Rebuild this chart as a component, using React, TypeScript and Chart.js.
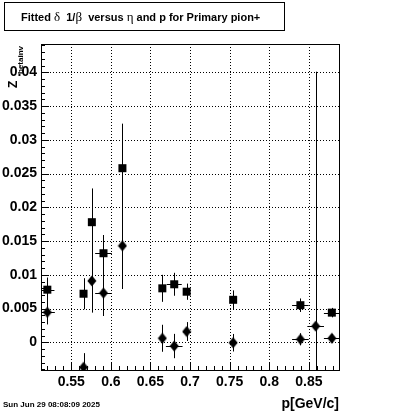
import React, { useEffect, useRef } from "react";
import { Chart, registerables } from "chart.js";

Chart.register(...registerables);

// ---- data ----
const squareP = [0.5198, 0.5655, 0.576, 0.5907, 0.6146, 0.665, 0.68, 0.6957, 0.7544, 0.8393, 0.879];
const squarePErr = [0.009, 0.004, 0.004, 0.0105, 0.004, 0.004, 0.0095, 0.004, 0.004, 0.0105, 0.01];
const squareVal = [0.0078, 0.0072, 0.0178, 0.0132, 0.0258, 0.008, 0.0086, 0.0075, 0.0063, 0.0055, 0.0044];
const squareErr = [0.0018, 0.0023, 0.005, 0.0027, 0.0066, 0.002, 0.0017, 0.0012, 0.0014, 0.001, 0.0007];

const diamondP = [0.5198, 0.5655, 0.576, 0.5907, 0.6146, 0.665, 0.68, 0.6957, 0.7544, 0.8393, 0.8586, 0.879];
const diamondPErr = [0.0095, 0.004, 0.004, 0.0105, 0.004, 0.004, 0.0105, 0.004, 0.004, 0.0105, 0.0105, 0.01];
const diamondVal = [0.00445, -0.0037, 0.0091, 0.0073, 0.0143, 0.0006, -0.00055, 0.0016, -0.00006, 0.00045, 0.0024, 0.0006];
const diamondErr = [0.0018, 0.0021, 0.0047, 0.0034, 0.0064, 0.002, 0.0018, 0.0014, 0.0013, 0.0009, 0.0377, 0.0006];

const xTickValues = [0.55, 0.6, 0.65, 0.7, 0.75, 0.8, 0.85];
const xTickLabels = ["0.55", "0.6", "0.65", "0.7", "0.75", "0.8", "0.85"];
const yTickValues = [0, 0.005, 0.01, 0.015, 0.02, 0.025, 0.03, 0.035, 0.04];
const yTickLabels = ["0", "0.005", "0.01", "0.015", "0.02", "0.025", "0.03", "0.035", "0.04"];
const xMinorValues = [0.52, 0.53, 0.54, 0.56, 0.57, 0.58, 0.59, 0.61, 0.62, 0.63, 0.64, 0.66, 0.67, 0.68, 0.69, 0.71, 0.72, 0.73, 0.74, 0.76, 0.77, 0.78, 0.79, 0.81, 0.82, 0.83, 0.84, 0.86, 0.87, 0.88];
const yMinorValues = [-0.004, -0.003, -0.002, -0.001, 0.001, 0.002, 0.003, 0.004, 0.006, 0.007, 0.008, 0.009, 0.011, 0.012, 0.013, 0.014, 0.016, 0.017, 0.018, 0.019, 0.021, 0.022, 0.023, 0.024, 0.026, 0.027, 0.028, 0.029, 0.031, 0.032, 0.033, 0.034, 0.036, 0.037, 0.038, 0.039, 0.041, 0.042, 0.043, 0.044];

const X_MIN = 0.5118;
const X_MAX = 0.8893;
const Y_MIN = -0.0041;
const Y_MAX = 0.0442;

const titleParts: [string, boolean][] = [
  ["Fitted ", false],
  ["\u03B4", true],
  ["  1/", false],
  ["\u03B2", true],
  ["  versus ", false],
  ["\u03B7", true],
  [" and p for Primary pion+", false],
];
const xTitle = "p[GeV/c]";
const yTitleMain = "Z";
const yTitleSub = "betainv";
const dateText = "Sun Jun 29 08:08:09 2025";

function makeDiamond(): HTMLCanvasElement {
  const c = document.createElement("canvas");
  c.width = 10;
  c.height = 12;
  const g = c.getContext("2d")!;
  g.fillStyle = "#000";
  g.beginPath();
  g.moveTo(5, 0.5);
  g.lineTo(9.5, 6);
  g.lineTo(5, 11.5);
  g.lineTo(0.5, 6);
  g.closePath();
  g.fill();
  return c;
}

const decorPlugin = {
  id: "rootDecor",
  beforeDatasetsDraw(chart: any) {
    const ctx = chart.ctx as CanvasRenderingContext2D;
    const { left, right, top, bottom } = chart.chartArea;
    const xs = chart.scales.x;
    const ys = chart.scales.y;
    ctx.save();
    // dotted grid
    ctx.strokeStyle = "#000";
    ctx.lineWidth = 1;
    ctx.setLineDash([1, 2]);
    xTickValues.forEach((v) => {
      const px = Math.round(xs.getPixelForValue(v)) + 0.5;
      ctx.beginPath();
      ctx.moveTo(px, top);
      ctx.lineTo(px, bottom);
      ctx.stroke();
    });
    yTickValues.forEach((v) => {
      const py = Math.round(ys.getPixelForValue(v)) + 0.5;
      ctx.beginPath();
      ctx.moveTo(left, py);
      ctx.lineTo(right, py);
      ctx.stroke();
    });
    ctx.setLineDash([]);
    // ticks inside
    const tick = (px: number, py: number, dx: number, dy: number) => {
      ctx.beginPath();
      ctx.moveTo(px, py);
      ctx.lineTo(px + dx, py + dy);
      ctx.stroke();
    };
    xTickValues.forEach((v) => tick(Math.round(xs.getPixelForValue(v)) + 0.5, bottom, 0, -8));
    xMinorValues.forEach((v) => tick(Math.round(xs.getPixelForValue(v)) + 0.5, bottom, 0, -4));
    yTickValues.forEach((v) => tick(left, Math.round(ys.getPixelForValue(v)) + 0.5, 8, 0));
    yMinorValues.forEach((v) => tick(left, Math.round(ys.getPixelForValue(v)) + 0.5, 4, 0));

    // error bars
    ctx.beginPath();
    ctx.rect(left, top, right - left, bottom - top);
    ctx.clip();
    const drawErr = (ps: number[], pe: number[], vs: number[], ve: number[]) => {
      for (let i = 0; i < ps.length; i++) {
        const cx = Math.round(xs.getPixelForValue(ps[i])) + 0.5;
        const cy = Math.round(ys.getPixelForValue(vs[i])) + 0.5;
        ctx.beginPath();
        ctx.moveTo(cx, ys.getPixelForValue(vs[i] - ve[i]));
        ctx.lineTo(cx, ys.getPixelForValue(vs[i] + ve[i]));
        ctx.moveTo(xs.getPixelForValue(ps[i] - pe[i]), cy);
        ctx.lineTo(xs.getPixelForValue(ps[i] + pe[i]), cy);
        ctx.stroke();
      }
    };
    drawErr(squareP, squarePErr, squareVal, squareErr);
    drawErr(diamondP, diamondPErr, diamondVal, diamondErr);
    ctx.restore();
  },
  afterDraw(chart: any) {
    const ctx = chart.ctx as CanvasRenderingContext2D;
    const { left, right, top, bottom } = chart.chartArea;
    ctx.save();
    ctx.strokeStyle = "#000";
    ctx.fillStyle = "#000";
    ctx.lineWidth = 1;
    // frame
    ctx.strokeRect(Math.round(left) + 0.5, Math.round(top) + 0.5, Math.round(right - left) - 1, Math.round(bottom - top));

    // title box
    ctx.strokeRect(4.5, 2.5, 280, 28);
    let x = 21;
    ctx.textBaseline = "alphabetic";
    ctx.textAlign = "left";
    titleParts.forEach(([t, greek]) => {
      ctx.font = greek ? "13px 'Liberation Serif', 'DejaVu Serif', serif" : "bold 11px 'Liberation Sans', Arial, sans-serif";
      ctx.fillText(t, x, 20.5);
      x += ctx.measureText(t).width;
    });

    // x title
    ctx.font = "bold 14px 'Liberation Sans', Arial, sans-serif";
    ctx.textAlign = "right";
    ctx.fillText(xTitle, 339, 408);

    // date
    ctx.font = "bold 8px 'Liberation Sans', Arial, sans-serif";
    ctx.textAlign = "left";
    ctx.fillText(dateText, 3, 407);

    // y title (rotated)
    ctx.translate(17, 88);
    ctx.rotate(-Math.PI / 2);
    ctx.font = "bold 12px 'Liberation Sans', Arial, sans-serif";
    ctx.fillText(yTitleMain, 0, 0);
    ctx.font = "bold 8px 'Liberation Sans', Arial, sans-serif";
    ctx.fillText(yTitleSub, 14, 6);
    ctx.restore();
  },
};

export default function App() {
  const ref = useRef<HTMLCanvasElement | null>(null);
  useEffect(() => {
    document.body.style.margin = "0";
    const diamond = makeDiamond();
    const chart = new Chart(ref.current!, {
      type: "scatter",
      data: {
        datasets: [
          {
            label: "squares",
            data: squareP.map((p, i) => ({ x: p, y: squareVal[i] })),
            pointStyle: "rect",
            pointRadius: 5.66,
            pointBackgroundColor: "#000",
            pointBorderWidth: 0,
            pointBorderColor: "#000",
            showLine: false,
          },
          {
            label: "diamonds",
            data: diamondP.map((p, i) => ({ x: p, y: diamondVal[i] })),
            pointStyle: diamond as any,
            pointRadius: 5,
            pointBackgroundColor: "#000",
            pointBorderWidth: 0,
            showLine: false,
          },
        ],
      },
      options: {
        animation: false,
        responsive: false,
        maintainAspectRatio: false,
        events: [],
        layout: { padding: { left: 0, right: 60, top: 44, bottom: 0 } },
        plugins: { legend: { display: false }, tooltip: { enabled: false }, title: { display: false } },
        scales: {
          x: {
            type: "linear",
            min: X_MIN,
            max: X_MAX,
            grid: { display: false, drawTicks: false, tickLength: 0 },
            border: { display: false },
            afterBuildTicks: (s: any) => {
              s.ticks = xTickValues.map((v) => ({ value: v }));
            },
            afterFit: (s: any) => {
              s.height = 44;
            },
            ticks: {
              autoSkip: false,
              maxRotation: 0,
              padding: 4,
              color: "#000",
              font: { family: "'Liberation Sans', Arial, sans-serif", size: 14, weight: "bold" },
              callback: (v: any) => {
                const i = xTickValues.findIndex((t) => Math.abs(t - v) < 1e-9);
                return i >= 0 ? xTickLabels[i] : "";
              },
            },
          },
          y: {
            type: "linear",
            min: Y_MIN,
            max: Y_MAX,
            grid: { display: false, drawTicks: false, tickLength: 0 },
            border: { display: false },
            afterBuildTicks: (s: any) => {
              s.ticks = yTickValues.map((v) => ({ value: v }));
            },
            afterFit: (s: any) => {
              s.width = 41;
            },
            ticks: {
              autoSkip: false,
              padding: 4,
              color: "#000",
              font: { family: "'Liberation Sans', Arial, sans-serif", size: 14, weight: "bold" },
              callback: (v: any) => {
                const i = yTickValues.findIndex((t) => Math.abs(t - v) < 1e-9);
                return i >= 0 ? yTickLabels[i] : "";
              },
            },
          },
        },
      },
      plugins: [decorPlugin],
    });
    return () => chart.destroy();
  }, []);
  return (
    <div style={{ width: 400, height: 414, background: "#fff" }}>
      <canvas ref={ref} width={400} height={414} style={{ display: "block" }} />
    </div>
  );
}
